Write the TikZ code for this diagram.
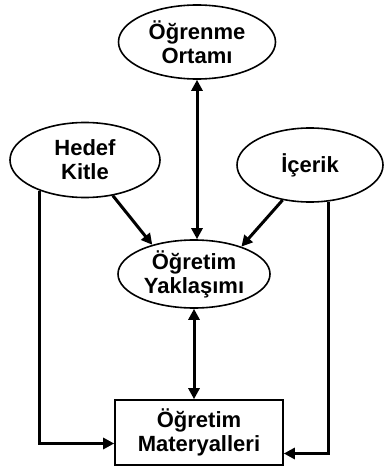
\documentclass[tikz,border=0pt]{standalone}
\usepackage{fontspec}
\setmainfont{Liberation Sans}
\usetikzlibrary{shapes.geometric,arrows.meta}
\begin{document}
\begin{tikzpicture}[x=1pt,y=-1pt,
  txt/.style={font=\bfseries\fontsize{22}{24}\selectfont, align=center},
  ell/.style={ellipse, draw, line width=1.6pt, inner sep=0pt, txt},
  box/.style={rectangle, draw, line width=1.6pt, inner sep=0pt, txt},
  conn/.style={line width=3pt, -{Triangle[length=11pt,width=11pt]}},
  bconn/.style={line width=3pt, {Triangle[length=11pt,width=11pt]}-{Triangle[length=11pt,width=11pt]}}]
\useasboundingbox (0,0) rectangle (384,473);
\node[ell, minimum width=157pt, minimum height=74pt] (ort) at (197,42) {Öğrenme\\Ortamı};
\node[ell, minimum width=150pt, minimum height=75pt] (hed) at (85,160) {Hedef\\Kitle};
\node[ell, minimum width=146pt, minimum height=74pt] (ice) at (310,165) {İçerik};
\node[ell, minimum width=152pt, minimum height=68pt] (yak) at (194,274) {Öğretim\\Yaklaşımı};
\node[box, minimum width=168pt, minimum height=65pt] (mat) at (199,432.5) {Öğretim\\Materyalleri};
\draw[bconn] (ort.south) -- (ort.south |- yak.north);
\draw[conn] (hed.-52) -- (yak.145);
\draw[conn] (ice.-128) -- (yak.30);
\draw[bconn] (yak.south) -- (yak.south |- mat.north);
\draw[conn] (hed.-146) |- ([yshift=-11pt]mat.west);
\draw[conn] (ice.-63) |- ([yshift=-21pt]mat.east);
\end{tikzpicture}
\end{document}
